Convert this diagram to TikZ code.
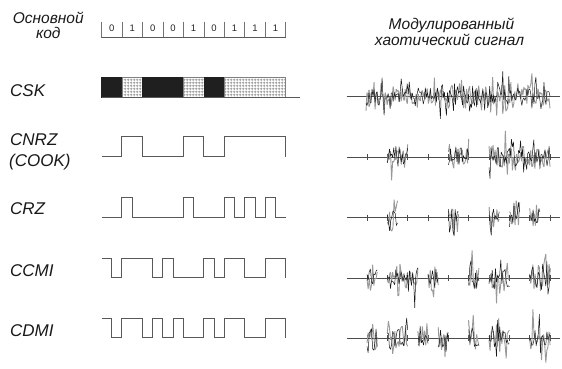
\documentclass[tikz,border=0pt]{standalone}
\usepackage{fontspec}
\setmainfont{Liberation Sans}
\usetikzlibrary{patterns}
\pgfdeclarepatternformonly{finegrid}{\pgfpointorigin}{\pgfpoint{2.7pt}{2.7pt}}{\pgfpoint{2.7pt}{2.7pt}}{%
  \pgfsetlinewidth{0.8pt}%
  \pgfpathmoveto{\pgfpoint{0pt}{1.35pt}}\pgfpathlineto{\pgfpoint{2.7pt}{1.35pt}}%
  \pgfpathmoveto{\pgfpoint{1.35pt}{0pt}}\pgfpathlineto{\pgfpoint{1.35pt}{2.7pt}}%
  \pgfusepath{stroke}}
\newcommand\chaosburst[3]{%
  \pgfmathtruncatemacro\nsamp{max(5,(#2-#1)/1.0)}%
  \draw[sigg] plot[domain=#1:#2, samples=\nsamp] (\x,{#3-10*rand-30*rand*rand*rand});
  \draw[sigb] plot[domain=#1:#2, samples=\nsamp] (\x,{#3-9*rand-30*rand*rand*rand});
}
\begin{document}
\begin{tikzpicture}[x=1pt,y=-1pt,
  lab/.style={font=\fontsize{17}{20}\selectfont\itshape, anchor=base west, inner sep=0pt, text=black!90},
  hdr/.style={font=\fontsize{15.5}{18}\selectfont\itshape, anchor=base, inner sep=0pt, text=black!90},
  digit/.style={font=\fontsize{9.5}{11}\selectfont, anchor=base, inner sep=0pt, text=black!85},
  wave/.style={draw=black!65, line width=0.85pt},
  cellline/.style={draw=black!55, line width=0.7pt},
  axisline/.style={draw=black!70, line width=0.9pt},
  sigg/.style={draw=black!40, line width=0.9pt, line join=bevel},
  sigb/.style={draw=black!90, line width=0.5pt, line join=bevel},
  blackbit/.style={fill=black!88, draw=black!88, line width=0.4pt},
  dotbit/.style={fill=white, pattern=finegrid, pattern color=black!40, draw=black!50, line width=0.6pt}]
\useasboundingbox (0,0) rectangle (562,368);
\pgfmathsetseed{20231}

% headers
\node[hdr] (h1) at (48.3,23.5) {Основной};
\node[hdr] (h2) at (48.3,38.5) {код};
\node[hdr] (h3) at (451.5,29.3) {Модулированный};
\node[hdr] (h4) at (449.5,45) {хаотический сигнал};

% row labels
\node[lab] (l1) at (10,96) {CSK};
\node[lab] (l2) at (10,145.7) {CNRZ};
\node[lab] (l3) at (9,166.7) {(COOK)};
\node[lab] (l4) at (10,214) {CRZ};
\node[lab] (l5) at (10,276) {CCMI};
\node[lab] (l6) at (10,336.7) {CDMI};

% code box
\foreach \k in {0,...,9} {\draw[cellline] ({101.5+20.47*\k},21.7) -- ({101.5+20.47*\k},37.7);}
\draw[wave] (101.5,37.7) -- (285.7,37.7);
\foreach \b [count=\i from 0] in {0,1,0,0,1,0,1,1,1} {
  \node[digit] (d\i) at ({111.7+20.47*\i},31.5) {\b};
}

% CSK bar
\draw[blackbit] (101.5,77.3) rectangle (121.9,97.3);
\draw[dotbit] (121.9,77.3) rectangle (142.4,97.3);
\draw[blackbit] (142.4,77.3) rectangle (183.3,97.3);
\draw[dotbit] (183.3,77.3) rectangle (203.8,97.3);
\draw[blackbit] (203.8,77.3) rectangle (224.3,97.3);
\draw[dotbit] (224.3,77.3) rectangle (285.7,97.3);
\draw[wave] (101.5,97.5) -- (300,97.5);

% CNRZ
\draw[wave] (101.5,156.7) -- (121.9,156.7) -- (121.9,136.7) -- (142.4,136.7) -- (142.4,156.7)
  -- (183.3,156.7) -- (183.3,136.7) -- (203.8,136.7) -- (203.8,156.7) -- (224.3,156.7)
  -- (224.3,136.7) -- (285.7,136.7) -- (285.7,156.7);
% CRZ
\draw[wave] (101.5,217.3) -- (121.9,217.3) -- (121.9,197.7) -- (132.2,197.7) -- (132.2,217.3)
  -- (183.3,217.3) -- (183.3,197.7) -- (193.6,197.7) -- (193.6,217.3)
  -- (224.3,217.3) -- (224.3,197.7) -- (234.5,197.7) -- (234.5,217.3)
  -- (244.7,217.3) -- (244.7,197.7) -- (255.0,197.7) -- (255.0,217.3)
  -- (265.2,217.3) -- (265.2,197.7) -- (275.4,197.7) -- (275.4,217.3) -- (285.7,217.3);
% CCMI
\draw[wave] (101.5,258.3) -- (111.7,258.3) -- (111.7,277.7) -- (121.9,277.7) -- (121.9,258.3)
  -- (152.7,258.3) -- (152.7,277.7) -- (162.9,277.7) -- (162.9,258.3) -- (173.1,258.3)
  -- (173.1,277.7) -- (203.8,277.7) -- (203.8,258.3) -- (214.0,258.3) -- (214.0,277.7)
  -- (224.3,277.7) -- (224.3,258.3) -- (244.7,258.3) -- (244.7,277.7) -- (265.2,277.7)
  -- (265.2,258.3) -- (285.7,258.3) -- (285.7,277.7);
% CDMI
\draw[wave] (101.5,318.3) -- (111.7,318.3) -- (111.7,337.7) -- (121.9,337.7) -- (121.9,318.3)
  -- (142.4,318.3) -- (142.4,337.7) -- (152.7,337.7) -- (152.7,318.3) -- (162.9,318.3)
  -- (162.9,337.7) -- (173.1,337.7) -- (173.1,318.3) -- (183.3,318.3) -- (183.3,337.7)
  -- (203.8,337.7) -- (203.8,318.3) -- (214.0,318.3) -- (214.0,337.7) -- (224.3,337.7)
  -- (224.3,318.3) -- (244.7,318.3) -- (244.7,337.7) -- (265.2,337.7) -- (265.2,318.3)
  -- (285.7,318.3) -- (285.7,337.7);

% signal axes with bit ticks
\draw[axisline] (346.7,96.7) -- (560,96.7);
\foreach \ay in {157.3,217.7,278.3,338.3} {
  \draw[axisline] (346.7,\ay) -- (560,\ay);
  \foreach \k in {0,...,9} {\draw[axisline] ({367+20.34*\k},{\ay-3}) -- ({367+20.34*\k},{\ay+3});}
}

% chaotic bursts
\chaosburst{366}{550}{96.7}
\chaosburst{387.3}{407.7}{157.3}
\chaosburst{448.4}{468.7}{157.3}
\chaosburst{489}{550.1}{157.3}
\chaosburst{387.3}{397.5}{217.7}
\chaosburst{448.4}{458.5}{217.7}
\chaosburst{489}{499.2}{217.7}
\chaosburst{509.4}{519.6}{217.7}
\chaosburst{529.7}{539.9}{217.7}
\chaosburst{367}{377.2}{278.3}
\chaosburst{387.3}{417.9}{278.3}
\chaosburst{428}{438.2}{278.3}
\chaosburst{468.7}{478.9}{278.3}
\chaosburst{489}{509.4}{278.3}
\chaosburst{529.7}{550.1}{278.3}
\chaosburst{367}{377.2}{338.3}
\chaosburst{387.3}{407.7}{338.3}
\chaosburst{417.9}{428}{338.3}
\chaosburst{438.2}{448.4}{338.3}
\chaosburst{468.7}{478.9}{338.3}
\chaosburst{489}{509.4}{338.3}
\chaosburst{529.7}{550.1}{338.3}
\end{tikzpicture}
\end{document}
